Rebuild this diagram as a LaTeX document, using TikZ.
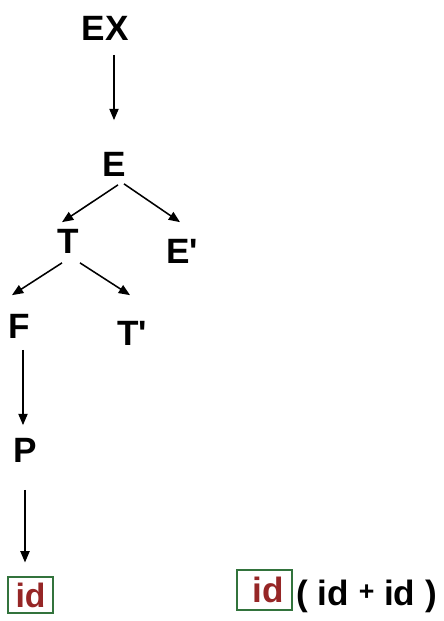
\documentclass[tikz,border=0pt]{standalone}
\usepackage{fontspec}
\setmainfont{Liberation Sans}
\usetikzlibrary{arrows.meta}
\definecolor{idred}{RGB}{150,38,38}
\definecolor{boxgreen}{RGB}{50,115,60}

\begin{document}
\begin{tikzpicture}[x=0.025cm, y=-0.025cm,
  sym/.style={inner sep=0pt, font=\fontsize{25}{30}\selectfont\bfseries},
  idbox/.style={draw=boxgreen, line width=0.8pt, inner sep=0pt, text=idred},
  arr/.style={-{Triangle[length=8pt,width=6.5pt]}, line width=1.1pt}]
\useasboundingbox (0,0) rectangle (444,621);
\node[sym] (ex) at (105,28) {EX};
\node[sym] (e) at (114,164) {E};
\node[sym] (t) at (68,241) {T};
\node[sym] (ep) at (182,251) {E\textquotesingle};
\node[sym] (f) at (19,326) {F};
\node[sym] (tp) at (132,333) {T\textquotesingle};
\node[sym] (p) at (25,450) {P};
\node[idbox, minimum width=1.125cm, minimum height=0.9cm, font=\fontsize{24}{28}\selectfont\bfseries] (idl) at (30.5,595) {id};
\node[idbox, minimum width=1.375cm, minimum height=1cm, font=\fontsize{25}{30}\selectfont\bfseries] (idr) at (264.5,590) {\hspace{0.2cm}id};
\node[anchor=base west, inner sep=0pt, font=\fontsize{25}{30}\selectfont\bfseries] (rest) at (296,605) {( id {\fontsize{19}{19}\selectfont\raisebox{3pt}{+}} id )};
% tree edges
\draw[arr] ([shift={(9,14.5)}]ex.south) -- ([shift={(0,-31.5)}]e.north);
\draw[arr] ([shift={(4,8.5)}]e.south) -- ([shift={(-6,-6.5)}]t.north);
\draw[arr] ([shift={(10,7.5)}]e.south) -- ([shift={(-2,-16.5)}]ep.north);
\draw[arr] ([shift={(-6,9.5)}]t.south) -- ([shift={(-7,-18.5)}]f.north);
\draw[arr] ([shift={(12,9.5)}]t.south) -- ([shift={(-2,-25.5)}]tp.north);
\draw[arr] ([shift={(4,11.5)}]f.south) -- ([shift={(-2,-12.5)}]p.north);
\draw[arr] ([shift={(0,27.5)}]p.south) -- ([shift={(-5.5,-14)}]idl.north);
\end{tikzpicture}
\end{document}
